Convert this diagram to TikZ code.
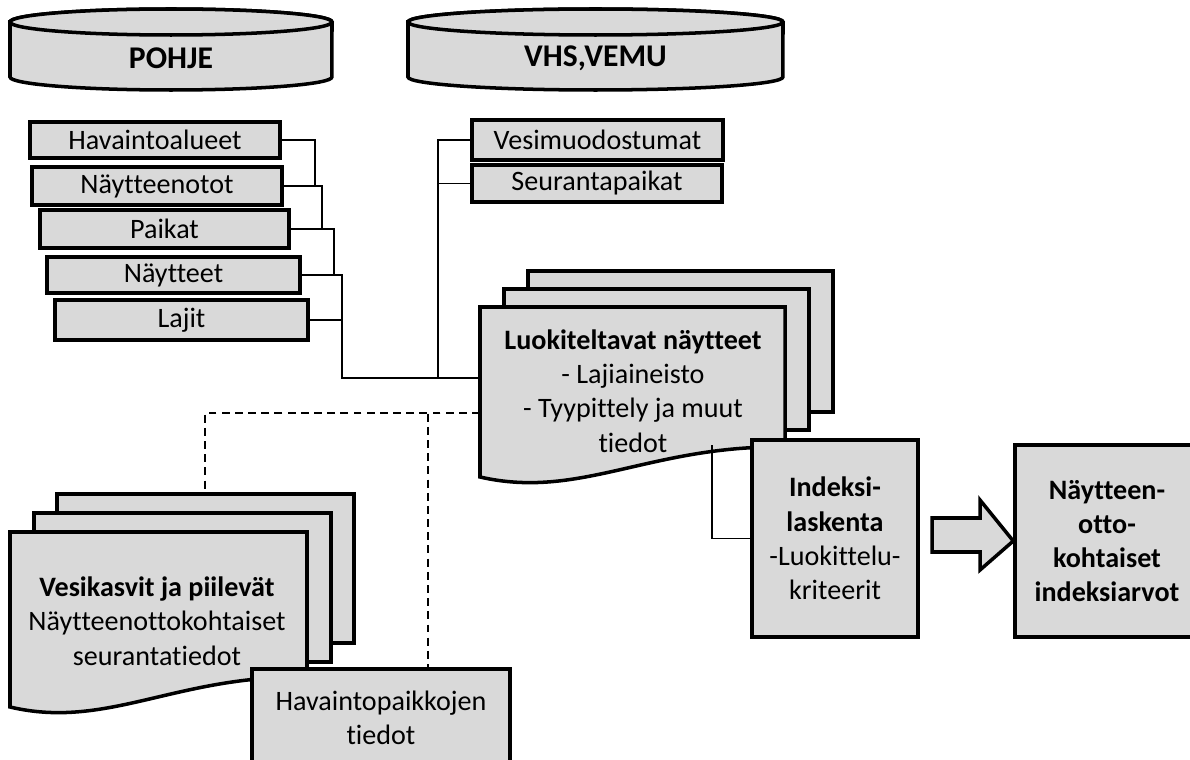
\documentclass[tikz,border=0pt]{standalone}
\usepackage{fontspec}
\setmainfont{Carlito}[Ligatures=NoCommon]
\begin{document}
\begin{tikzpicture}[x=0.02cm, y=-0.02cm,
  every node/.style={font=\fontsize{16}{19.5}\selectfont},
  box/.style={draw, line width=2pt, fill=boxgray},
  tbl/.style={box, inner sep=0pt, align=center},
  txt/.style={inner sep=0pt, align=center},
  link/.style={line width=1.1pt},
  dep/.style={link, dash pattern=on 4.5pt off 3pt}]
\definecolor{boxgray}{RGB}{217,217,217}
\useasboundingbox (0,0) rectangle (1190,760);
\clip (0,0) rectangle (1190,760);
% Tables from POHJE
\node[tbl, minimum width=5cm, minimum height=0.72cm] (hav) at (155,140) {Havaintoalueet};
\node[tbl, minimum width=5cm, minimum height=0.76cm] (nayt1) at (157,186) {Näytteenotot};
\node[tbl, minimum width=4.98cm, minimum height=0.76cm] (paik) at (164.5,229) {Paikat};
\node[tbl, minimum width=5.06cm, minimum height=0.72cm] (nayt2) at (173.5,275) {Näytteet};
\node[tbl, minimum width=5.06cm, minimum height=0.8cm] (lajit) at (181.5,320) {Lajit};
% Tables from VHS,VEMU
\node[tbl, minimum width=5.02cm, minimum height=0.8cm] (vesi) at (597.5,140) {Vesimuodostumat};
\node[tbl, minimum width=5cm, minimum height=0.74cm] (seur) at (597,183.5) {Seurantapaikat};
% Join points on the documents
\coordinate (luokW) at (480,378);
\coordinate (luokD) at (480,413);
\coordinate (lkbot) at (712,445);
\coordinate (vesikN) at (205,493);
\coordinate (hpaikN) at (428,669);
% Connectors
\draw[link] (hav.east) -- ++(33,0) |- (nayt1.east);
\draw[link] (nayt1.east) -- ++(38,0) |- (paik.east);
\draw[link] (paik.east) -- ++(43,0) |- (nayt2.east);
\draw[link] (nayt2.east) -- ++(40,0) |- (luokW);
\draw[link] (lajit.east) -- ++(32,0);
\draw[link] (vesi.west) -- ++(-32,0) |- (luokW);
\draw[link] (seur.west) -- ++(-32,0);
\draw[dep] (luokD) -| (vesikN);
\draw[dep] (luokD) -| (hpaikN);
% Databases
\filldraw[box] (10,22) -- (10,77) arc[start angle=180, end angle=360, x radius=3.22cm, y radius=0.26cm]
  -- (332,22) arc[start angle=0, end angle=180, x radius=3.22cm, y radius=0.26cm] -- cycle;
\draw[box] (171,22) ellipse[x radius=3.22cm, y radius=0.26cm];
\node[txt, font=\fontsize{18}{22}\selectfont\bfseries] (pohje) at (171,58) {POHJE};
\filldraw[box] (408,22) -- (408,77) arc[start angle=180, end angle=360, x radius=3.75cm, y radius=0.26cm]
  -- (783,22) arc[start angle=0, end angle=180, x radius=3.75cm, y radius=0.26cm] -- cycle;
\draw[box] (595.5,22) ellipse[x radius=3.75cm, y radius=0.26cm];
\node[txt, font=\fontsize{18}{22}\selectfont\bfseries] (vhs) at (595.5,58) {VHS,VEMU};
% Luokiteltavat naytteet (document stack)
\foreach \dx/\dy in {48/-36, 24/-18} {
  \filldraw[box] (480+\dx,307+\dy) rectangle (785+\dx,448+\dy);
}
\filldraw[box] (480,307) -- (480,477) .. controls (580,500) and (650,445) .. (785,447) -- (785,307) -- cycle;
\node[txt] (luok) at (633,391) {\textbf{Luokiteltavat näytteet}\\- Lajiaineisto\\- Tyypittely ja muut\\tiedot};
% Vesikasvit ja piilevat (document stack)
\foreach \dx/\dy in {47/-38, 24/-19} {
  \filldraw[box] (10+\dx,532+\dy) rectangle (307+\dx,681+\dy);
}
\filldraw[box] (10,532) -- (10,707) .. controls (107,730) and (176,675) .. (307,677) -- (307,532) -- cycle;
\node[txt] (vesik) at (157,621) {\textbf{Vesikasvit ja piilevät}\\Näytteenottokohtaiset\\seurantatiedot};
\node[tbl, minimum width=5.16cm, minimum height=2.04cm] (hpaik) at (381,720) {};
\node[txt] at (381,718) {Havaintopaikkojen\\tiedot};
% Index calculation and result
\node[tbl, minimum width=3.32cm, minimum height=3.94cm] (idx) at (835,538.5) {\textbf{Indeksi-}\\\textbf{laskenta}\\-Luokittelu-\\kriteerit};
\draw[link] (idx.west) -| (lkbot);
\node[tbl, minimum width=3.68cm, minimum height=3.84cm, font=\fontsize{16}{19.5}\selectfont\bfseries] (res) at (1107,541) {Näytteen-\\otto-\\kohtaiset\\indeksiarvot};
\filldraw[box] (932,518) -- (980,518) -- (980,500) -- (res.west) -- (980,570) -- (980,552) -- (932,552) -- cycle;
\end{tikzpicture}
\end{document}
